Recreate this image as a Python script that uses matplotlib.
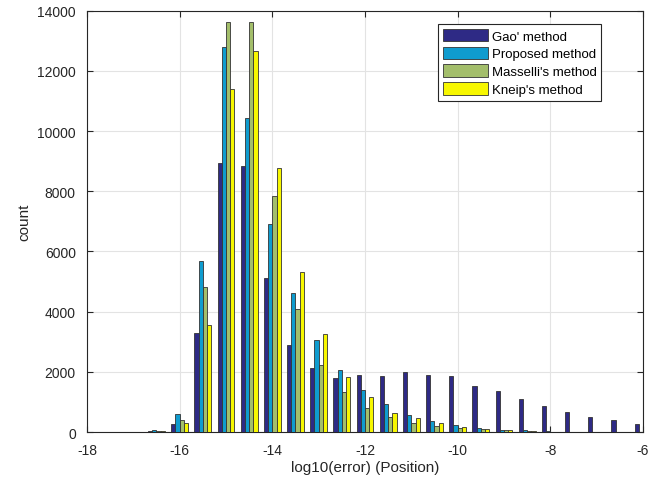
import matplotlib
matplotlib.use("Agg")
import matplotlib.pyplot as plt
import numpy as np

plt.rcParams['font.family'] = ['Liberation Sans', 'DejaVu Sans']
plt.rcParams['axes.unicode_minus'] = False

# bin centres of log10(error)
centers = [-17.5, -17.0, -16.5, -16.0, -15.5, -15.0, -14.5, -14.0, -13.5, -13.0,
           -12.5, -12.0, -11.5, -11.0, -10.5, -10.0, -9.5, -9.0, -8.5, -8.0,
           -7.5, -7.0, -6.5, -6.0]
gao = [5, 10, 40, 266, 3300, 8950, 8850, 5118, 2902, 2116, 1805, 1894, 1872, 1983,
       1883, 1850, 1518, 1373, 1097, 875, 676, 487, 388, 277]
proposed = [5, 10, 70, 608, 5690, 12800, 10430, 6910, 4610, 3070, 2070, 1396, 941, 565,
            354, 221, 122, 66, 55, 20, 10, 5, 3, 2]
masselli = [5, 10, 30, 389, 4808, 13630, 13630, 7832, 4077, 2216, 1340, 798, 487, 310,
            188, 133, 88, 60, 40, 12, 8, 4, 2, 1]
kneip = [5, 10, 20, 299, 3566, 11400, 12670, 8762, 5306, 3267, 1828, 1152, 643, 465,
         288, 155, 90, 60, 50, 12, 8, 4, 2, 1]

series = [gao, proposed, masselli, kneip]
names = ["Gao' method", "Proposed method", "Masselli's method", "Kneip's method"]
colors = ['#2e2a85', '#0f9ccf', '#a3be6b', '#f7f700']

fig = plt.figure(figsize=(6.63, 4.85), dpi=100)
ax = fig.add_axes([0.1312, 0.1072, 0.8386, 0.8687])

x = np.array(centers)
w = 0.091
for i, (vals, name, c) in enumerate(zip(series, names, colors)):
    ax.bar(x + (i - 1.5) * w, vals, width=w, color=c, edgecolor='#333333',
           linewidth=0.6, label=name, zorder=3)

ax.set_xlim(-18, -6)
ax.set_ylim(0, 14000)
ax.set_xticks(range(-18, -5, 2))
ax.set_yticks(range(0, 14001, 2000))
ax.grid(True, color='#e3e3e3', linewidth=0.8, zorder=0)
ax.tick_params(direction='in', top=True, right=True, labelsize=10,
               colors='#262626', length=4)
ax.tick_params(axis='x', pad=8)
ax.tick_params(axis='y', pad=8)
for s in ax.spines.values():
    s.set_color('#262626')
    s.set_linewidth(0.8)

ax.set_xlabel('log10(error) (Position)', fontsize=11, color='#262626', labelpad=2)
ax.set_ylabel('count', fontsize=11, color='#262626')

leg = ax.legend(loc='upper right', bbox_to_anchor=(0.925, 0.968), borderaxespad=0,
                fancybox=False, edgecolor='#262626', fontsize=9.5,
                handlelength=3.4, handleheight=1.1, handletextpad=0.3,
                labelspacing=0.3, borderpad=0.35, framealpha=1)
leg.get_frame().set_linewidth(0.8)

fig.savefig('out.png', dpi=100)
